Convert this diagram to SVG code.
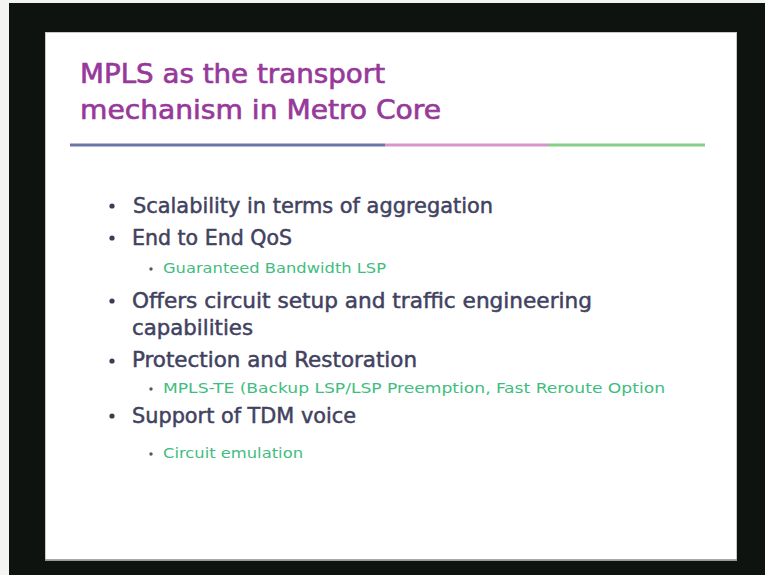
<svg xmlns="http://www.w3.org/2000/svg" width="765" height="575" viewBox="0 0 765 575">
  <style>
    .title { font-family: "DejaVu Sans Condensed", "DejaVu Sans", sans-serif; font-size: 27px; fill: #97399a; stroke: #97399a; stroke-width: 0.6px; }
    .main  { font-family: "DejaVu Sans Condensed", "DejaVu Sans", sans-serif; font-size: 21px; fill: #41425f; stroke: #41425f; stroke-width: 0.45px; }
    .sub   { font-family: "DejaVu Sans Condensed", "DejaVu Sans", sans-serif; font-size: 14px; fill: #3fbd80; }
    .dot   { fill: #3c3d55; }
    .sdot  { fill: #55566a; }
  </style>

  <!-- screen surround -->
  <rect x="0" y="0" width="765" height="575" fill="#f4f4f2"/>
  <rect x="9" y="3" width="756" height="572" fill="#0f130f"/>

  <!-- slide -->
  <rect x="45" y="32" width="692" height="529" fill="#ffffff"/>
  <rect x="45.5" y="32.5" width="691" height="528" fill="none" stroke="#c8c8c8" stroke-width="1"/>
  <line x1="45" y1="560" x2="737" y2="560" stroke="#8a8a8a" stroke-width="1.5"/>

  <!-- title -->
  <g id="title">
    <text class="title" x="80" y="83" textLength="305" lengthAdjust="spacingAndGlyphs">MPLS as the transport</text>
    <text class="title" x="80" y="119" textLength="361" lengthAdjust="spacingAndGlyphs">mechanism in Metro Core</text>
  </g>

  <!-- three-tone rule under the title -->
  <g id="rule" stroke-width="3">
    <line x1="70" y1="145" x2="385" y2="145" stroke="#6c76a6"/>
    <line x1="385" y1="145" x2="548" y2="145" stroke="#d795c9"/>
    <line x1="548" y1="145" x2="705" y2="145" stroke="#86cf86"/>
  </g>

  <!-- bullet list -->
  <g id="bullets">
    <circle class="dot" cx="112" cy="206" r="2.6"/>
    <text class="main" x="133" y="213" textLength="360" lengthAdjust="spacingAndGlyphs">Scalability in terms of aggregation</text>

    <circle class="dot" cx="112" cy="238" r="2.6"/>
    <text class="main" x="132" y="245" textLength="160" lengthAdjust="spacingAndGlyphs">End to End QoS</text>

    <circle class="sdot" cx="151" cy="269" r="1.7"/>
    <text class="sub" x="163" y="273" textLength="223" lengthAdjust="spacingAndGlyphs">Guaranteed Bandwidth LSP</text>

    <circle class="dot" cx="112" cy="301" r="2.6"/>
    <text class="main" x="132" y="308" textLength="460" lengthAdjust="spacingAndGlyphs">Offers circuit setup and traffic engineering</text>
    <text class="main" x="132" y="335" textLength="121" lengthAdjust="spacingAndGlyphs">capabilities</text>

    <circle class="dot" cx="112" cy="361" r="2.6"/>
    <text class="main" x="132" y="367" textLength="285" lengthAdjust="spacingAndGlyphs">Protection and Restoration</text>

    <circle class="sdot" cx="151" cy="389" r="1.7"/>
    <text class="sub" x="163" y="393" textLength="502" lengthAdjust="spacingAndGlyphs">MPLS-TE (Backup LSP/LSP Preemption, Fast Reroute Option</text>

    <circle class="dot" cx="112" cy="416" r="2.6"/>
    <text class="main" x="132" y="423" textLength="224" lengthAdjust="spacingAndGlyphs">Support of TDM voice</text>

    <circle class="sdot" cx="151" cy="454" r="1.7"/>
    <text class="sub" x="163" y="458" textLength="140" lengthAdjust="spacingAndGlyphs">Circuit emulation</text>
  </g>
</svg>
